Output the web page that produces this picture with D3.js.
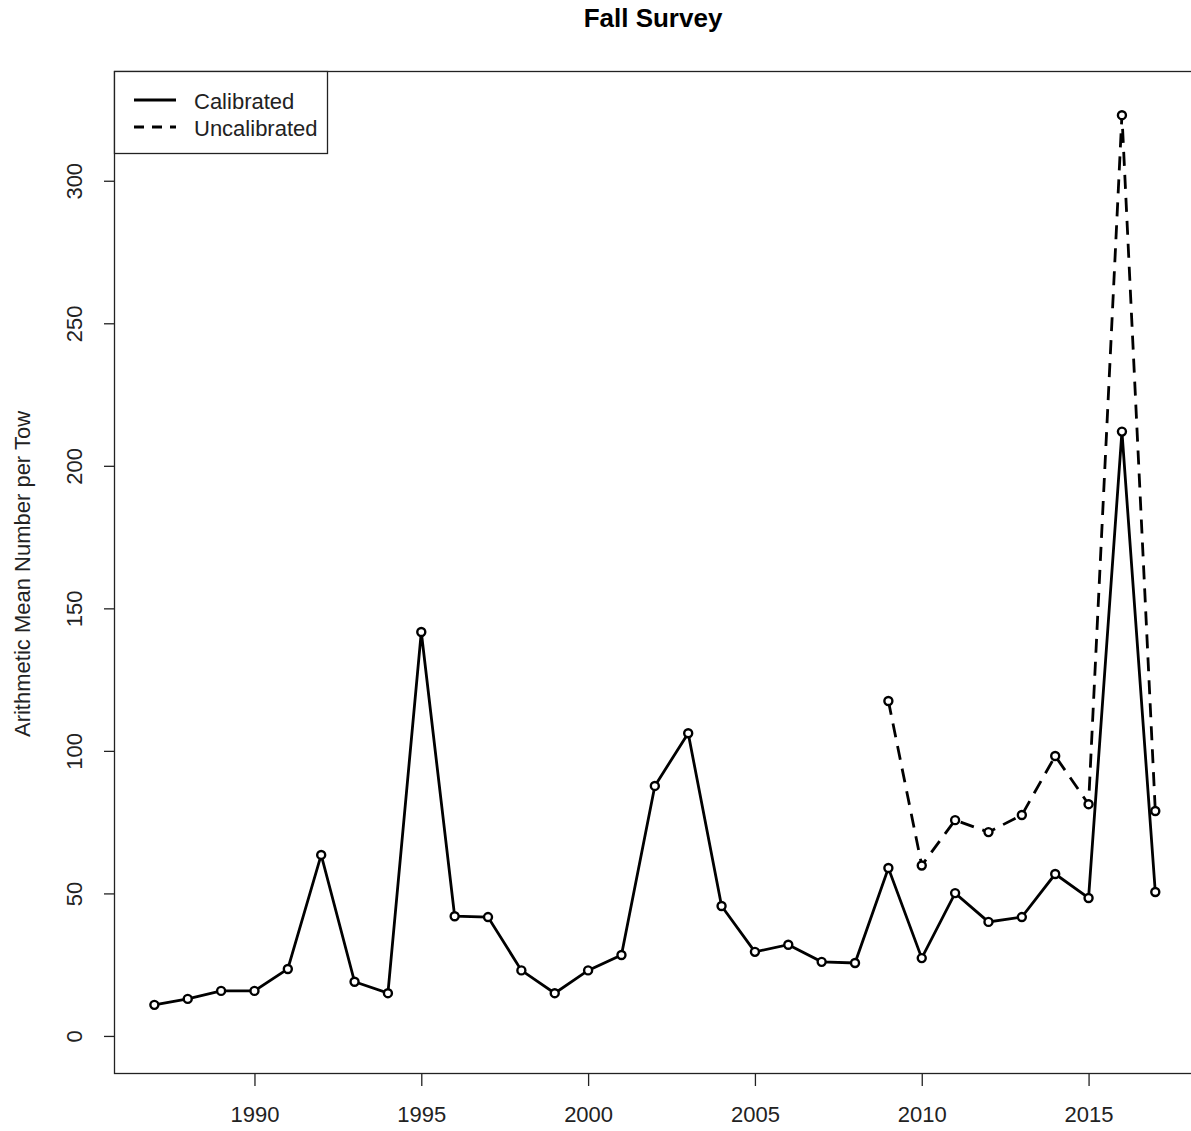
<!DOCTYPE html>
<html>
<head>
<meta charset="utf-8">
<script src="https://cdn.jsdelivr.net/npm/d3@7"></script>
<style>
  body { margin: 0; background: #fff; }
  svg { font-family: "Liberation Sans", Arial, sans-serif; }
</style>
</head>
<body>
<div id="chart"></div>
<script>
// years and series
const years = [1987, 1988, 1989, 1990, 1991, 1992, 1993, 1994, 1995, 1996,
               1997, 1998, 1999, 2000, 2001, 2002, 2003, 2004, 2005, 2006,
               2007, 2008, 2009, 2010, 2011, 2012, 2013, 2014, 2015, 2016, 2017];
const calibrated = [10.9, 13, 15.8, 15.8, 23.5, 63.5, 19, 15, 141.7, 42,
                    41.7, 23, 15, 23, 28.4, 87.7, 106.2, 45.6, 29.5, 32,
                    26, 25.6, 58.9, 27.3, 50.1, 40, 41.7, 56.8, 48.4, 212, 50.5];
const uncalYears = [2009, 2010, 2011, 2012, 2013, 2014, 2015, 2016, 2017];
const uncalibrated = [117.5, 59.8, 75.7, 71.5, 77.5, 98.2, 81.3, 323, 78.9];
const xTicks = [1990, 1995, 2000, 2005, 2010, 2015];
const yTicks = [0, 50, 100, 150, 200, 250, 300];
const legendLabels = ['Calibrated', 'Uncalibrated'];

const width = 1191, height = 1131;
const plotLeft = 114, plotRight = 1192, plotTop = 71, plotBottom = 1073;

const svg = d3.select('#chart').append('svg')
    .attr('width', width)
    .attr('height', height);

const x = d3.scaleLinear().domain([1985.79, 2018.1]).range([plotLeft, plotRight]);
const y = d3.scaleLinear().domain([-13, 338.5]).range([plotBottom, plotTop]);

// title
svg.append('text')
    .attr('x', 653).attr('y', 18)
    .attr('text-anchor', 'middle')
    .attr('dominant-baseline', 'central')
    .attr('font-size', 26).attr('font-weight', 'bold')
    .text('Fall Survey');

// plot box
svg.append('rect')
    .attr('x', plotLeft + 0.5).attr('y', plotTop + 0.5)
    .attr('width', plotRight - plotLeft).attr('height', plotBottom - plotTop)
    .attr('fill', 'none').attr('stroke', '#222').attr('stroke-width', 1.3);

// x axis
const xAxis = svg.append('g')
    .attr('transform', `translate(0,${plotBottom + 1})`)
    .call(d3.axisBottom(x).tickValues(xTicks).tickFormat(d3.format('d')).tickSize(12));
xAxis.select('.domain').remove();
xAxis.selectAll('line').attr('stroke', '#222').attr('stroke-width', 1.3);
xAxis.selectAll('text').attr('font-size', 22).attr('fill', '#222')
    .attr('font-family', '"Liberation Sans", Arial, sans-serif')
    .attr('y', 40).attr('dy', null)
    .attr('dominant-baseline', 'central');

// y axis
const yAxis = svg.append('g')
    .attr('transform', `translate(${plotLeft},0)`)
    .call(d3.axisLeft(y).tickValues(yTicks).tickSize(10).tickFormat(d3.format('d')));
yAxis.select('.domain').remove();
yAxis.selectAll('line').attr('stroke', '#222').attr('stroke-width', 1.3);
yAxis.selectAll('text')
    .attr('font-size', 22).attr('fill', '#222')
    .attr('font-family', '"Liberation Sans", Arial, sans-serif')
    .attr('text-anchor', 'middle')
    .attr('x', null).attr('dy', null)
    .attr('transform', 'translate(-40,0) rotate(-90)')
    .attr('y', 0)
    .attr('dominant-baseline', 'central');

svg.append('text')
    .attr('transform', `translate(22,${(plotTop + plotBottom) / 2 + 2}) rotate(-90)`)
    .attr('text-anchor', 'middle')
    .attr('dominant-baseline', 'central')
    .attr('font-size', 22).attr('fill', '#222')
    .text('Arithmetic Mean Number per Tow');

const line = d3.line().x(d => x(d[0])).y(d => y(d[1]));

const calData = years.map((yr, i) => [yr, calibrated[i]]);
const uncalData = uncalYears.map((yr, i) => [yr, uncalibrated[i]]);

svg.append('path')
    .datum(uncalData)
    .attr('d', line)
    .attr('fill', 'none').attr('stroke', '#000')
    .attr('stroke-width', 2.8)
    .attr('stroke-dasharray', '14,9');

svg.append('path')
    .datum(calData)
    .attr('d', line)
    .attr('fill', 'none').attr('stroke', '#000')
    .attr('stroke-width', 2.8);

[uncalData, calData].forEach(data => {
    svg.append('g').selectAll('circle')
        .data(data)
        .join('circle')
        .attr('cx', d => x(d[0]))
        .attr('cy', d => y(d[1]))
        .attr('r', 4)
        .attr('fill', '#fff')
        .attr('stroke', '#000')
        .attr('stroke-width', 2.4);
});

// legend
const legend = svg.append('g');
legend.append('rect')
    .attr('x', plotLeft + 0.5).attr('y', plotTop + 0.5)
    .attr('width', 213).attr('height', 82)
    .attr('fill', '#fff').attr('stroke', '#222').attr('stroke-width', 1.3);
legendLabels.forEach((label, i) => {
    const ly = 100 + i * 27;
    legend.append('line')
        .attr('x1', 134).attr('x2', 176)
        .attr('y1', ly).attr('y2', ly)
        .attr('stroke', '#000').attr('stroke-width', 2.8)
        .attr('stroke-dasharray', i === 1 ? '10,8' : null);
    legend.append('text')
        .attr('x', 194).attr('y', ly + 1)
        .attr('dominant-baseline', 'central')
        .attr('font-size', 22).attr('fill', '#222')
        .text(label);
});
</script>
</body>
</html>
